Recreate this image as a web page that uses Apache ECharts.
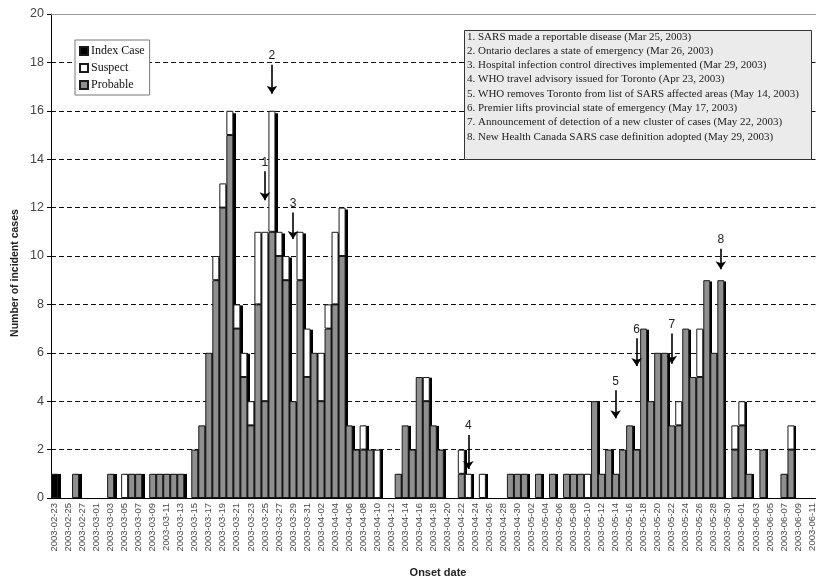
<!DOCTYPE html>
<html><head><meta charset="utf-8">
<script src="https://cdn.jsdelivr.net/npm/echarts@6/dist/echarts.min.js"></script>
<style>html,body{margin:0;padding:0;background:#fff}#c{width:817px;height:580px}</style>
</head><body><div id="c"></div>
<script>
const categories = [
 '2003-02-23','2003-02-24','2003-02-25','2003-02-26','2003-02-27','2003-02-28',
 '2003-03-01','2003-03-02','2003-03-03','2003-03-04','2003-03-05','2003-03-06','2003-03-07','2003-03-08','2003-03-09','2003-03-10',
 '2003-03-11','2003-03-12','2003-03-13','2003-03-14','2003-03-15','2003-03-16','2003-03-17','2003-03-18','2003-03-19','2003-03-20',
 '2003-03-21','2003-03-22','2003-03-23','2003-03-24','2003-03-25','2003-03-26','2003-03-27','2003-03-28','2003-03-29','2003-03-30','2003-03-31',
 '2003-04-01','2003-04-02','2003-04-03','2003-04-04','2003-04-05','2003-04-06','2003-04-07','2003-04-08','2003-04-09','2003-04-10',
 '2003-04-11','2003-04-12','2003-04-13','2003-04-14','2003-04-15','2003-04-16','2003-04-17','2003-04-18','2003-04-19','2003-04-20',
 '2003-04-21','2003-04-22','2003-04-23','2003-04-24','2003-04-25','2003-04-26','2003-04-27','2003-04-28','2003-04-29','2003-04-30',
 '2003-05-01','2003-05-02','2003-05-03','2003-05-04','2003-05-05','2003-05-06','2003-05-07','2003-05-08','2003-05-09','2003-05-10',
 '2003-05-11','2003-05-12','2003-05-13','2003-05-14','2003-05-15','2003-05-16','2003-05-17','2003-05-18','2003-05-19','2003-05-20',
 '2003-05-21','2003-05-22','2003-05-23','2003-05-24','2003-05-25','2003-05-26','2003-05-27','2003-05-28','2003-05-29','2003-05-30','2003-05-31',
 '2003-06-01','2003-06-02','2003-06-03','2003-06-04','2003-06-05','2003-06-06','2003-06-07','2003-06-08','2003-06-09','2003-06-10','2003-06-11'
];
const probable = [
 0,0,0,1,0,0,0,0,1,0,
 0,1,1,0,1,1,1,1,1,0,
 2,3,6,9,12,15,7,5,3,8,
 4,11,10,9,4,9,5,6,4,7,
 8,10,3,2,2,2,0,0,0,1,
 3,2,5,4,3,2,0,0,1,0,
 0,0,0,0,0,1,1,1,0,1,
 0,1,0,1,1,1,0,4,1,2,
 1,2,3,2,7,4,6,6,3,3,
 7,5,5,9,6,9,0,2,3,1,
 0,2,0,0,1,2,0,0,0
];
const suspect = [
 0,0,0,0,0,0,0,0,0,0,
 1,0,0,0,0,0,0,0,0,0,
 0,0,0,1,1,1,1,1,1,3,
 7,5,1,1,0,2,2,0,2,1,
 3,2,0,0,1,0,2,0,0,0,
 0,0,0,1,0,0,0,0,1,1,
 0,1,0,0,0,0,0,0,0,0,
 0,0,0,0,0,0,1,0,0,0,
 0,0,0,0,0,0,0,0,0,1,
 0,0,2,0,0,0,0,1,1,0,
 0,0,0,0,0,1,0,0,0
];
const indexCase = [
 1,0,0,0,0,0,0,0,0,0,
 0,0,0,0,0,0,0,0,0,0,
 0,0,0,0,0,0,0,0,0,0,
 0,0,0,0,0,0,0,0,0,0,
 0,0,0,0,0,0,0,0,0,0,
 0,0,0,0,0,0,0,0,0,0,
 0,0,0,0,0,0,0,0,0,0,
 0,0,0,0,0,0,0,0,0,0,
 0,0,0,0,0,0,0,0,0,0,
 0,0,0,0,0,0,0,0,0,0,
 0,0,0,0,0,0,0,0,0
];
const eventNotes = [
 'SARS made a reportable disease (Mar 25, 2003)',
 'Ontario declares a state of emergency (Mar 26, 2003)',
 'Hospital infection control directives implemented (Mar 29, 2003)',
 'WHO travel advisory issued for Toronto (Apr 23, 2003)',
 'WHO removes Toronto from list of SARS affected areas (May 14, 2003)',
 'Premier lifts provincial state of emergency (May 17, 2003)',
 'Announcement of detection of a new cluster of cases (May 22, 2003)',
 'New Health Canada SARS case definition adopted (May 29, 2003)'
];
const eventDates = ['2003-03-25','2003-03-26','2003-03-29','2003-04-23','2003-05-14','2003-05-17','2003-05-22','2003-05-29'];
// arrow start / end heights (in case counts) for the event markers
const arrowFrom = [13.5, 17.9, 11.8, 2.6, 4.45, 6.6, 6.8, 10.3];
const arrowTo   = [12.3, 16.7, 10.7, 1.2, 3.3, 5.45, 5.55, 9.45];

const totals = categories.map((_, i) => probable[i] + suspect[i] + indexCase[i]);
const nz = a => a.map(v => v === 0 ? '-' : v);

const chart = echarts.init(document.getElementById('c'));
const barBorder = {borderColor:'#1a1a1a', borderWidth:1};
chart.setOption({
  animation: false,
  grid: [
    {left:51, right:-1, top:14, bottom:82},
    {left:54, right:-4, top:17, bottom:82}
  ],
  xAxis: [
    {type:'category', gridIndex:0, data:categories,
     axisLine:{lineStyle:{color:'#000', width:1}},
     axisTick:{alignWithLabel:true, interval:1, length:4, lineStyle:{color:'#333'}},
     axisLabel:{interval:1, rotate:90, fontSize:9.5, color:'#4a4a4a', fontFamily:'Liberation Sans', margin:5},
     splitLine:{show:false}},
    {type:'category', gridIndex:0, position:'top', data:categories,
     axisLine:{lineStyle:{color:'#9a9a9a', width:1}}, axisTick:{show:false}, axisLabel:{show:false}},
    {type:'category', gridIndex:1, data:categories, show:false}
  ],
  yAxis: [
    {type:'value', gridIndex:0, min:0, max:20, interval:2,
     axisLine:{show:true, lineStyle:{color:'#000', width:1}},
     axisTick:{show:true, length:4, lineStyle:{color:'#000'}},
     axisLabel:{fontSize:12.5, color:'#444', fontFamily:'Liberation Sans', margin:7},
     splitLine:{show:true, showMaxLine:false, lineStyle:{color:'#111', type:[5,3], width:1}}},
    {type:'value', gridIndex:1, min:0, max:20, show:false, splitLine:{show:false}}
  ],
  legend: {
    data:['Index Case','Suspect','Probable'], orient:'vertical', left:75, top:40,
    itemWidth:8, itemHeight:8, itemGap:5, padding:[5,5,4,4], icon:'rect',
    backgroundColor:'#fff', borderColor:'#777', borderWidth:1, selectedMode:false,
    textStyle:{fontFamily:'Liberation Serif', fontSize:12, color:'#111', padding:[0,0,0,-2]}
  },
  series: [
    {name:'shadow', type:'bar', xAxisIndex:2, yAxisIndex:1, data:nz(totals),
     barCategoryGap:'0%', itemStyle:{color:'#000'}, silent:true, z:1},
    {name:'Probable', type:'bar', stack:'cases', data:nz(probable), barCategoryGap:'0%',
     itemStyle:Object.assign({color:'#8f8f8f'}, barBorder), z:3,
     markLine:{silent:true, symbol:['none','arrow'], symbolSize:8,
       lineStyle:{color:'#000', width:1.6, type:'solid'},
       emphasis:{disabled:true},
       label:{show:true, position:'start', formatter:'{b}', fontSize:12, color:'#222', fontFamily:'Liberation Sans', distance:3},
       data: eventDates.map((d, k) => [{name:String(k + 1), coord:[d, arrowFrom[k]]}, {coord:[d, arrowTo[k]]}])
     }},
    {name:'Suspect', type:'bar', stack:'cases', data:nz(suspect), barCategoryGap:'0%',
     itemStyle:Object.assign({color:'#ffffff'}, barBorder), z:3},
    {name:'Index Case', type:'bar', stack:'cases', data:nz(indexCase), barCategoryGap:'0%',
     itemStyle:Object.assign({color:'#000000'}, barBorder), z:3}
  ],
  graphic: [
    {type:'rect', left:464, top:30, shape:{width:347, height:129},
     style:{fill:'#ebebeb', stroke:'#333', lineWidth:1}, z:10},
    {type:'text', left:467, top:29.5, z:11,
     style:{text: eventNotes.map((t, k) => (k + 1) + '. ' + t).join('\n'),
            font:'11px "Liberation Serif"', lineHeight:14.3, fill:'#222'}},
    {type:'text', x:15, y:273, rotation:Math.PI/2, z:11,
     style:{text:'Number of incident cases', align:'center', verticalAlign:'middle',
            font:'bold 10.5px "Liberation Sans"', fill:'#222'}},
    {type:'text', x:438, y:573, z:11,
     style:{text:'Onset date', align:'center', verticalAlign:'middle',
            font:'bold 11px "Liberation Sans"', fill:'#222'}}
  ]
});
</script></body></html>
